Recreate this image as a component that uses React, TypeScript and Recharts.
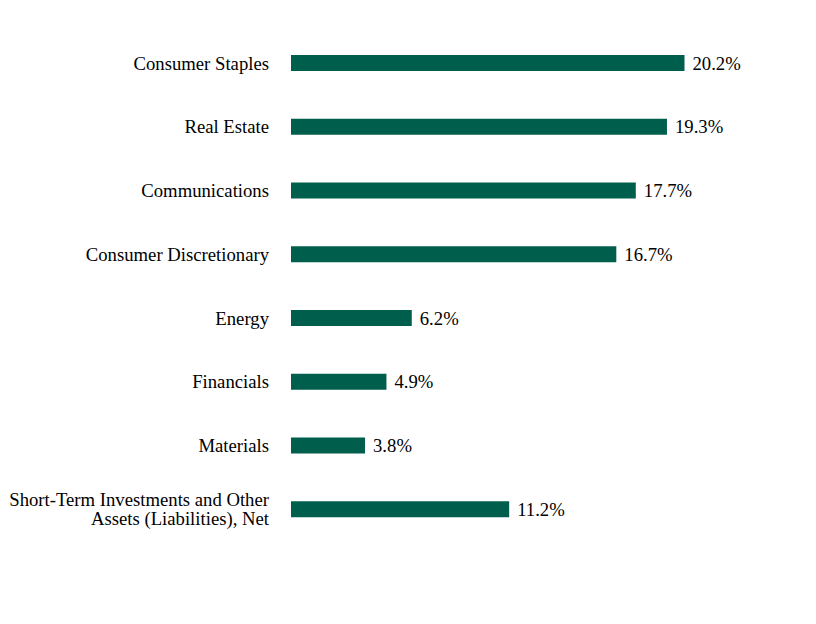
import { BarChart, Bar, XAxis, YAxis, LabelList } from 'recharts';

const sectors = [
  'Consumer Staples',
  'Real Estate',
  'Communications',
  'Consumer Discretionary',
  'Energy',
  'Financials',
  'Materials',
  'Short-Term Investments and Other\nAssets (Liabilities), Net',
];
const weights = [20.2, 19.3, 17.7, 16.7, 6.2, 4.9, 3.8, 11.2];

const chartData = sectors.map((sector, i) => ({ sector, weight: weights[i] }));

const FONT = "'Liberation Serif', 'Times New Roman', Times, serif";
const SIZE = 18.7;

function SectorTick({ x, y, payload }: any) {
  const lines = String(payload.value).split('\n');
  const lineHeight = 19;
  const startY = y - ((lines.length - 1) * lineHeight) / 2;
  return (
    <text
      x={x}
      y={startY}
      textAnchor="end"
      style={{ fontFamily: FONT, fontSize: SIZE, fill: '#000' }}
    >
      {lines.map((line, i) => (
        <tspan key={i} x={x} y={startY + i * lineHeight} dy="0.355em">
          {line}
        </tspan>
      ))}
    </text>
  );
}

export default function App() {
  return (
    <div style={{ width: 808, height: 616, fontFamily: FONT }}>
      <BarChart
        width={808}
        height={616}
        data={chartData}
        layout="vertical"
        margin={{ top: 23, right: 38, bottom: 83, left: 0 }}
        style={{ fontFamily: FONT }}
      >
        <XAxis type="number" domain={[0, 25]} hide />
        <YAxis
          type="category"
          dataKey="sector"
          width={283}
          axisLine={false}
          tickLine={false}
          tickSize={0}
          tickMargin={22}
          tick={<SectorTick />}
          interval={0}
        />
        <Bar dataKey="weight" fill="#005E4D" barSize={16} isAnimationActive={false}>
          <LabelList
            dataKey="weight"
            position="right"
            offset={8}
            formatter={(v: any) => `${Number(v).toFixed(1)}%`}
            style={{ fontFamily: FONT, fontSize: SIZE, fill: '#000' }}
          />
        </Bar>
      </BarChart>
    </div>
  );
}
